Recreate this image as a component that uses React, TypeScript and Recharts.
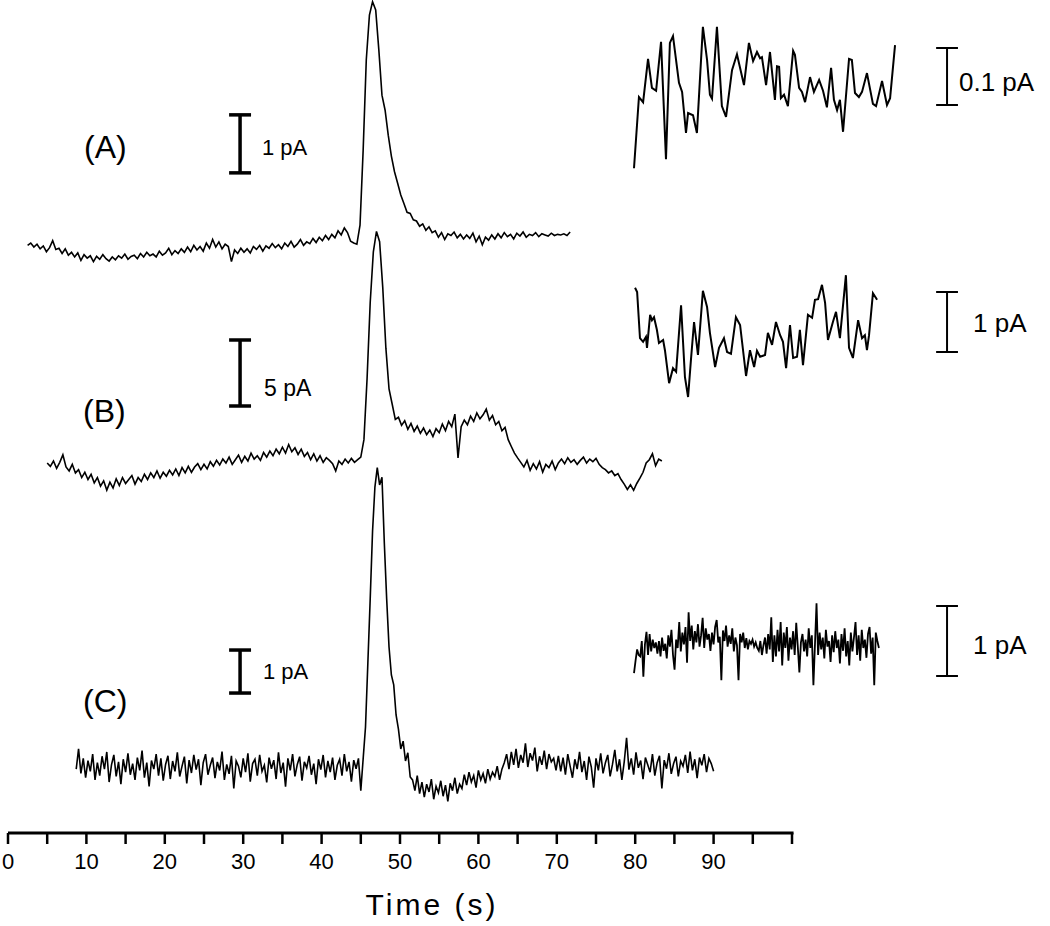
import { ComposedChart, Line, XAxis, YAxis, ReferenceLine } from 'recharts'

// time axis ticks (s)
const TIME_TICKS = [0, 5, 10, 15, 20, 25, 30, 35, 40, 45, 50, 55, 60, 65, 70, 75, 80, 85, 90, 95, 100]

// trace A, pA, sampled every 0.4 s from 2.5 s
const A_START = 2.5
const A_STEP = 0.4
const traceAValues = [
  0.08, 0.12, 0.05, 0.1, 0.02, 0.07, -0.03, 0.04, 0.16, 0.01,
  0.03, -0.06, 0.02, -0.09, -0.04, -0.12, -0.05, -0.18, -0.08, -0.14,
  -0.1, -0.2, -0.11, -0.16, -0.08, -0.15, -0.19, -0.12, -0.17, -0.1,
  -0.14, -0.07, -0.16, -0.11, -0.09, -0.15, -0.06, -0.12, -0.04, -0.1,
  -0.07, -0.12, -0.02, -0.09, -0.05, 0.03, -0.08, -0.01, -0.06, 0.02,
  -0.04, 0.05, -0.03, 0.08, 0.0, 0.06, -0.02, 0.12, 0.03, 0.18,
  0.05, 0.14, 0.02, 0.1, 0.06, -0.2, 0.0, -0.06, 0.03, -0.04,
  0.02, -0.05, 0.06, 0.01, 0.08, -0.02, 0.07, 0.03, 0.11, 0.04,
  0.09, 0.02, 0.12, 0.06, 0.15, 0.05, 0.1, 0.18, 0.08, 0.14,
  0.11, 0.2, 0.13, 0.22, 0.16, 0.25, 0.18, 0.27, 0.21, 0.33,
  0.26, 0.38, 0.3, 0.15, 0.12, 0.1, 0.43, 1.72, 3.28, 4.05,
  4.28,
  4.14, 3.45, 2.67, 2.41, 1.98, 1.62, 1.35, 1.15, 0.95,
  0.8, 0.65, 0.63, 0.52, 0.5, 0.41, 0.45, 0.34, 0.4, 0.3,
  0.33, 0.22, 0.3, 0.18, 0.28, 0.25, 0.31, 0.21, 0.27, 0.19,
  0.26, 0.2, 0.29, 0.14, 0.24, 0.09, 0.22, 0.17, 0.26, 0.19,
  0.28, 0.21, 0.3, 0.23, 0.27, 0.19, 0.29, 0.24, 0.31, 0.22,
  0.27, 0.25, 0.3, 0.23, 0.28, 0.26, 0.24, 0.29, 0.25, 0.27,
  0.26, 0.28, 0.25, 0.31,
]

// trace B, pA, sampled every 0.4 s from 5.0 s
const B_START = 5.0
const B_STEP = 0.4
const traceBValues = [
  0.15, -0.1, 0.3, -0.25, 0.2, 0.77, -0.15, -0.45, 0.05, -0.6,
  -0.35, -0.95, -0.55, -1.1, -0.7, -1.35, -0.95, -1.6, -1.2, -1.9,
  -1.3, -1.75, -1.05, -1.55, -0.95, -1.4, -1.1, -0.8, -1.45, -0.95,
  -1.25, -0.7, -1.1, -0.6, -0.95, -0.45, -1.0, -0.55, -0.85, -0.4,
  -0.75, -0.3, -0.8, -0.2, -0.6, -0.1, -0.55, -0.15, 0.1, -0.35,
  0.05, -0.3, 0.25, -0.1, 0.35, 0.0, 0.45, 0.15, 0.6, 0.05,
  0.4, 0.75, 0.2, 0.65, 0.3, 0.9, 0.45, 0.7, 0.35, 0.95,
  0.6, 1.05, 0.7, 1.2, 0.85, 1.35, 0.9, 1.55, 1.0, 1.3,
  0.8, 1.2, 0.65, 0.95, 0.4, 0.85, 0.3, 0.7, 0.2, 0.55,
  0.35, 0.1, -0.45, 0.3, 0.05, 0.45, 0.15, 0.5, 0.2, 0.4,
  0.6, 1.92, 6.54, 12.31, 16.15,
  17.69,
  16.92, 13.46, 8.85, 5.77,
  4.62, 3.46, 3.62, 3.0, 3.35, 2.7, 3.15, 2.55, 2.95, 2.4,
  2.8, 2.3, 2.65, 2.15, 2.75, 2.45, 3.1, 2.6, 3.3, 2.9,
  3.85, 0.54, 2.9, 3.4, 3.05, 3.7, 3.3, 3.95, 3.5, 3.8,
  4.23, 3.4, 3.75, 3.05, 3.3, 2.6, 2.85, 1.92, 1.4, 0.9,
  0.54, 0.2, -0.15, 0.35, -0.4, 0.1, -0.3, 0.25, -0.54, 0.05,
  -0.2, 0.3, -0.35, 0.15, 0.45, 0.1, 0.55, 0.2, 0.4, 0.05,
  0.35, 0.6, 0.15, 0.45, 0.25, 0.5, 0.05, -0.2, -0.35, -0.6,
  -0.45, -0.8, -0.65, -1.1, -1.45, -1.85, -1.5, -1.92, -1.4, -1.0,
  -0.55, 0.15, 0.4, 0.85, -0.05, 0.45, 0.3,
]

// trace C, pA, sampled every 0.3 s from 8.7 s
const C_START = 8.7
const C_STEP = 0.3
const traceCValues = [
  -0.05, 0.42, -0.15, 0.2, -0.25, 0.15, -0.1, 0.3, -0.3, 0.1,
  -0.2, 0.25, -0.05, 0.35, -0.35, 0.05, 0.28, -0.22, 0.12, -0.4,
  0.18, -0.12, 0.32, -0.18, 0.08, -0.3, 0.22, -0.08, 0.38, -0.25,
  0.1, -0.45, 0.15, -0.05, 0.3, -0.2, 0.2, -0.32, 0.06, 0.26,
  -0.28, 0.14, -0.1, 0.34, -0.22, 0.02, 0.24, -0.38, 0.16, -0.14,
  0.28, -0.06, 0.18, -0.42, 0.1, 0.3, -0.18, 0.04, 0.22, -0.26,
  0.12, -0.08, 0.36, -0.3, 0.06, -0.16, 0.26, -0.5, 0.14, 0.02,
  -0.24, 0.2, -0.12, 0.32, -0.34, 0.08, 0.18, -0.2, 0.28, -0.1,
  0.04, -0.36, 0.22, -0.04, 0.16, -0.28, 0.34, -0.14, 0.1, -0.46,
  0.2, -0.08, 0.3, -0.22, 0.06, 0.24, -0.32, 0.12, -0.02, 0.26,
  -0.18, 0.08, -0.4, 0.18, -0.06, 0.28, -0.24, 0.14, -0.12, 0.22,
  -0.3, 0.04, 0.18, -0.2, 0.3, -0.1, 0.12, -0.34, 0.16, -0.04,
  0.2, -0.55,
  0.19, 0.93, 2.42, 3.91, 5.49, 6.51, 6.96, 6.56, 6.74, 5.21,
  3.91, 2.79, 2.14, 1.91, 1.21, 0.88, 0.42, 0.6, 0.14, 0.33, -0.23,
  -0.3, -0.55, -0.2, -0.62, -0.35, -0.7, -0.4, -0.58, -0.28, -0.75,
  -0.45, -0.6, -0.32, -0.68, -0.42, -0.8, -0.38, -0.55, -0.25, -0.62,
  -0.4, -0.5,
  -0.18, -0.42, -0.12, -0.35, -0.2, -0.48, -0.08, -0.3, -0.15, -0.38,
  -0.05, -0.28, -0.12,
  -0.22, 0.02, -0.3, -0.05, 0.1,
  0.3, -0.05, 0.35, 0.05, 0.42, -0.02, 0.28, 0.1, 0.55, 0.0,
  0.32, 0.15, 0.45, -0.1, 0.25, 0.05, 0.38, -0.05, 0.3, 0.12,
  0.2, -0.08, 0.26,
  -0.1, 0.22, -0.18, 0.3, 0.02, -0.25, 0.18, -0.05, 0.35, -0.12,
  0.14, -0.3, 0.24, 0.0, -0.48, 0.2, -0.08, 0.32, -0.15, 0.1,
  0.28, -0.22, 0.06, 0.4, -0.1, 0.18, -0.3, 0.12, 0.68, -0.06,
  0.2, -0.18, 0.34, -0.02, 0.15, -0.28, 0.22, 0.05, -0.12, 0.3,
  -0.2, 0.1, 0.26, -0.5, 0.16, -0.04, 0.32, -0.16, 0.08, 0.24,
  -0.22, 0.14, 0.02, 0.28, -0.14, 0.36, -0.08, 0.18, -0.26, 0.22,
  0.04, 0.3, -0.12, 0.2, 0.08, -0.1,
]

// expanded baseline segments (inset time in s, current in pA)
const insetATimes = [
  0, 0.19, 0.35, 0.54, 0.69, 0.85, 1.04, 1.23, 1.38, 1.5, 1.73, 1.85, 2.0, 2.08, 2.27, 2.42,
  2.65, 2.81, 2.92, 3.0, 3.19, 3.38, 3.54, 3.77, 3.96, 4.23, 4.42, 4.58, 4.73, 4.85, 4.92, 5.08,
  5.23, 5.42, 5.5, 5.58, 5.65, 5.77, 5.92, 6.12, 6.19, 6.35, 6.46, 6.58, 6.77, 6.92, 7.12, 7.27,
  7.42, 7.58, 7.69, 7.81, 7.92, 8.04, 8.27, 8.38, 8.5, 8.65, 8.77, 8.96, 9.19, 9.31, 9.54, 9.73,
  9.85, 10.04,
]
const insetAValues = [
  -0.111, 0.014, 0.005, 0.081, 0.03, 0.025, 0.111, -0.095, 0.109, 0.121, 0.039, 0.023, -0.049, -0.014, -0.018, -0.049,
  0.137, 0.079, 0.018, 0.011, 0.137, -0.002, -0.021, 0.061, 0.089, 0.035, 0.109, 0.077, 0.093, 0.082, 0.084, 0.035,
  0.093, 0.009, 0.068, 0.067, 0.012, 0.018, -0.002, 0.095, 0.088, 0.03, 0.023, 0.005, 0.049, 0.023, 0.044, 0.025,
  -0.004, 0.065, 0.009, -0.009, 0.009, -0.047, 0.081, 0.079, 0.021, 0.014, 0.023, 0.056, 0.002, -0.002, 0.042, 0.0,
  0.012, 0.105,
]

const insetBTimes = [
  0.04, 0.12, 0.23, 0.35, 0.46, 0.5, 0.62, 0.69, 0.77, 0.88, 0.96, 1.12, 1.19, 1.35, 1.5, 1.62,
  1.81, 1.96, 2.08, 2.19, 2.31, 2.46, 2.65, 2.81, 2.92, 3.12, 3.27, 3.46, 3.58, 3.73, 3.92, 4.08,
  4.31, 4.46, 4.62, 4.73, 4.85, 5.04, 5.15, 5.31, 5.46, 5.62, 5.73, 5.85, 6.0, 6.12, 6.27, 6.38,
  6.5, 6.69, 6.85, 6.96, 7.08, 7.23, 7.35, 7.46, 7.65, 7.77, 7.92, 8.15, 8.27, 8.42, 8.62, 8.77,
  8.88, 8.96, 9.04, 9.19, 9.35,
]
const insetBValues = [
  1.07, 1.0, 0.23, 0.17, 0.25, 0.07, 0.62, 0.53, 0.58, 0.37, 0.15, 0.2, 0.03, -0.52, -0.27, -0.33,
  0.78, -0.42, -0.75, -0.13, 0.5, -0.05, 1.02, 0.75, 0.32, -0.25, 0.07, 0.23, 0.0, -0.03, 0.58, 0.45,
  -0.4, 0.03, -0.25, 0.02, -0.08, -0.05, 0.32, 0.12, 0.5, 0.28, 0.17, -0.27, 0.45, -0.1, -0.08, 0.37,
  -0.22, 0.62, 0.57, 0.87, 0.88, 1.12, 0.82, 0.2, 0.5, 0.67, 0.23, 1.28, 0.07, -0.1, 0.53, 0.23,
  0.28, 0.03, 0.28, 0.98, 0.87,
]

// inset C, sampled every 0.06 s
const INSET_C_STEP = 0.06
const insetCValues = [
  0.04, 0.22, 0.38, 0.3, 0.28, 0.5, -0.01, 0.45, 0.63, 0.3,
  0.6, 0.35, 0.52, 0.4, 0.48, 0.32, 0.5, 0.28, 0.55, 0.36,
  0.46, 0.25, 0.58, 0.42, 0.66, 0.3, 0.09, 0.52, 0.4, 0.77,
  0.35, 0.62, 0.45, 0.7, 0.19, 0.91, 0.5, 0.72, 0.38, 0.64,
  0.48, 0.74, 0.42, 0.58, 0.83, 0.4, 0.68, 0.52, 0.6, 0.36,
  0.62, 0.45, 0.7, 0.8, 0.48, 0.56, -0.06, 0.65, 0.5, 0.72,
  0.42, 0.58, 0.46, 0.68, 0.35, 0.55, 0.44, -0.06, 0.6, 0.48,
  0.62, 0.4, 0.54, 0.38, 0.5, 0.46, 0.52, 0.42, 0.48, 0.4,
  0.36, 0.5, 0.3, 0.44, 0.55, 0.32, 0.6, 0.38, 0.84, 0.2,
  0.58, 0.28, 0.66, 0.35, 0.77, 0.15, 0.62, 0.4, 0.7, 0.22,
  0.55, 0.38, 0.64, 0.3, 0.76, 0.42, 0.05, 0.48, 0.6, 0.35,
  0.52, 0.28, 0.68, 0.4, 0.58, -0.13, 0.45, 1.04, 0.3, 0.62,
  0.38, 0.55, 0.25, 0.66, 0.42, 0.5, 0.2, 0.58, 0.34, 0.64,
  0.4, 0.52, 0.18, 0.6, 0.36, 0.68, 0.28, 0.5, 0.15, 0.62,
  0.35, 0.55, 0.77, 0.3, 0.58, 0.22, 0.66, 0.4, 0.52, 0.26,
  0.6, 0.7, 0.32, 0.55, -0.13, 0.62, 0.5, 0.4,
]

// scale bars: axis ids, bar x, cap span, bottom/top value, stroke
const scaleBars = [
  { y: 'A', x: 'time', at: 29.6, c0: 28.2, c1: 31.0, lo: 1.33, hi: 2.33, w: 3.5 },
  { y: 'B', x: 'time', at: 29.6, c0: 28.2, c1: 31.0, lo: 4.47, hi: 9.47, w: 3.5 },
  { y: 'C', x: 'time', at: 29.6, c0: 28.2, c1: 31.0, lo: 1.72, hi: 2.72, w: 3.5 },
  { y: 'iA', x: 'inset', at: 12.04, c0: 11.62, c1: 12.46, lo: 0, hi: 0.1, w: 2 },
  { y: 'iB', x: 'inset', at: 12.04, c0: 11.62, c1: 12.46, lo: 0, hi: 1, w: 2 },
  { y: 'iC', x: 'inset', at: 12.04, c0: 11.62, c1: 12.46, lo: 0, hi: 1, w: 2 },
]

const sampled = (vals: number[], t0: number, dt: number) => vals.map((v, i) => ({ t: t0 + i * dt, v }))
const paired = (ts: number[], vals: number[]) => ts.map((t, i) => ({ t, v: vals[i] }))

const traceA = sampled(traceAValues, A_START, A_STEP)
const traceB = sampled(traceBValues, B_START, B_STEP)
const traceC = sampled(traceCValues, C_START, C_STEP)
const insetA = paired(insetATimes, insetAValues)
const insetB = paired(insetBTimes, insetBValues)
const insetC = sampled(insetCValues, 0, INSET_C_STEP)

// layout
const W = 1050
const H = 926
const LEFT = 8
const RIGHT = 10
const AXIS_H = 93
const plotW = W - LEFT - RIGHT
const plotH = H - AXIS_H
const PX_PER_S = 7.84
const INSET_X0 = 634
const INSET_PX_PER_S = 26

// baseline pixel row + pixels per pA -> y domain
const yDom = (base: number, pxPerUnit: number): [number, number] => [-(plotH - base) / pxPerUnit, base / pxPerUnit]

const FONT = 'Arial, "Liberation Sans", sans-serif'

const renderTimeTick = (props: any) => {
  const { x, y, payload } = props
  const v = payload.value
  if (v % 10 !== 0 || v >= 100) return <g key={`tk${v}`} />
  return (
    <text
      key={`tk${v}`}
      x={x}
      y={y + 16}
      textAnchor="middle"
      fill="#000"
      style={{ fontSize: '22px', fontFamily: FONT }}
    >
      {v}
    </text>
  )
}

export default function App() {
  return (
    <div style={{ position: 'relative', width: W, height: H, background: '#fff' }}>
      <style>{'body{margin:0}'}</style>
      <ComposedChart width={W} height={H} margin={{ top: 0, right: RIGHT, bottom: 0, left: LEFT }}>
        <XAxis
          xAxisId="time"
          dataKey="t"
          type="number"
          domain={[0, plotW / PX_PER_S]}
          allowDataOverflow
          ticks={TIME_TICKS}
          interval={0}
          axisLine={false}
          tickLine={{ stroke: '#000', strokeWidth: 2.5 }}
          tickSize={11}
          tickMargin={9}
          height={AXIS_H}
          tick={renderTimeTick}
        />
        <XAxis
          xAxisId="inset"
          dataKey="t"
          type="number"
          orientation="top"
          height={0}
          hide
          allowDataOverflow
          domain={[-(INSET_X0 - LEFT) / INSET_PX_PER_S, (W - RIGHT - INSET_X0) / INSET_PX_PER_S]}
        />
        <YAxis yAxisId="frame" type="number" hide width={0} domain={[0, 1]} allowDataOverflow />
        <YAxis yAxisId="A" type="number" hide width={0} domain={yDom(250, 58)} allowDataOverflow />
        <YAxis yAxisId="B" type="number" hide width={0} domain={yDom(465, 13.2)} allowDataOverflow />
        <YAxis yAxisId="C" type="number" hide width={0} domain={yDom(767, 43)} allowDataOverflow />
        <YAxis yAxisId="iA" type="number" hide width={0} domain={yDom(105, 570)} allowDataOverflow />
        <YAxis yAxisId="iB" type="number" hide width={0} domain={yDom(352, 60)} allowDataOverflow />
        <YAxis yAxisId="iC" type="number" hide width={0} domain={yDom(676, 70)} allowDataOverflow />

        <ReferenceLine
          xAxisId="time"
          yAxisId="frame"
          segment={[{ x: 0, y: 0 }, { x: 100.2, y: 0 }]}
          stroke="#000"
          strokeWidth={3}
        />

        {scaleBars.flatMap((s, i) => [
          <ReferenceLine key={`v${i}`} xAxisId={s.x} yAxisId={s.y} segment={[{ x: s.at, y: s.lo }, { x: s.at, y: s.hi }]} stroke="#000" strokeWidth={s.w} />,
          <ReferenceLine key={`b${i}`} xAxisId={s.x} yAxisId={s.y} segment={[{ x: s.c0, y: s.lo }, { x: s.c1, y: s.lo }]} stroke="#000" strokeWidth={s.w} />,
          <ReferenceLine key={`t${i}`} xAxisId={s.x} yAxisId={s.y} segment={[{ x: s.c0, y: s.hi }, { x: s.c1, y: s.hi }]} stroke="#000" strokeWidth={s.w} />,
        ])}

        <Line data={traceA} dataKey="v" xAxisId="time" yAxisId="A" type="linear" stroke="#000" strokeWidth={1.6} dot={false} isAnimationActive={false} />
        <Line data={traceB} dataKey="v" xAxisId="time" yAxisId="B" type="linear" stroke="#000" strokeWidth={1.6} dot={false} isAnimationActive={false} />
        <Line data={traceC} dataKey="v" xAxisId="time" yAxisId="C" type="linear" stroke="#000" strokeWidth={1.6} dot={false} isAnimationActive={false} />
        <Line data={insetA} dataKey="v" xAxisId="inset" yAxisId="iA" type="linear" stroke="#000" strokeWidth={2} dot={false} isAnimationActive={false} />
        <Line data={insetB} dataKey="v" xAxisId="inset" yAxisId="iB" type="linear" stroke="#000" strokeWidth={2} dot={false} isAnimationActive={false} />
        <Line data={insetC} dataKey="v" xAxisId="inset" yAxisId="iC" type="linear" stroke="#000" strokeWidth={1.8} dot={false} isAnimationActive={false} />
      </ComposedChart>

      <svg width={W} height={H} style={{ position: 'absolute', left: 0, top: 0, pointerEvents: 'none' }} fontFamily={FONT} fill="#000">
        <text x={84} y={158} fontSize={32}>(A)</text>
        <text x={83} y={422} fontSize={32}>(B)</text>
        <text x={83} y={712} fontSize={32}>(C)</text>
        <text x={262} y={155} fontSize={22}>1 pA</text>
        <text x={264} y={396} fontSize={23}>5 pA</text>
        <text x={263} y={679} fontSize={22}>1 pA</text>
        <text x={959} y={91} fontSize={26}>0.1 pA</text>
        <text x={973} y={332} fontSize={26}>1 pA</text>
        <text x={973} y={654} fontSize={26}>1 pA</text>
        <text x={432} y={915} fontSize={30} textAnchor="middle" letterSpacing={3}>Time (s)</text>
      </svg>
    </div>
  )
}
